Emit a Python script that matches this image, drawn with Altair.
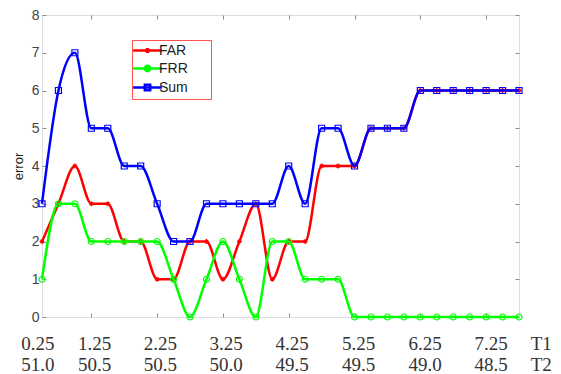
import altair as alt
import pandas as pd

# ---- data ----
sample_idx = list(range(30))
far = [2, 3, 4, 3, 3, 2, 2, 1, 1, 2, 2, 1, 2, 3, 1, 2, 2, 4, 4, 4, 5, 5, 5, 6, 6, 6, 6, 6, 6, 6]
frr = [1, 3, 3, 2, 2, 2, 2, 2, 1, 0, 1, 2, 1, 0, 2, 2, 1, 1, 1, 0, 0, 0, 0, 0, 0, 0, 0, 0, 0, 0]
total = [3, 6, 7, 5, 5, 4, 4, 3, 2, 2, 3, 3, 3, 3, 3, 4, 3, 5, 5, 4, 5, 5, 5, 6, 6, 6, 6, 6, 6, 6]
series_names = ["FAR", "FRR", "Sum"]
series_colors = ["#ff0000", "#00ff00", "#0000ff"]
t1_labels = ["0.25", "1.25", "2.25", "3.25", "4.25", "5.25", "6.25", "7.25", "T1"]
t2_labels = ["51.0", "50.5", "50.5", "50.0", "49.5", "49.5", "49.0", "48.5", "T2"]
label_at = [-0.25, 3.2, 7.2, 11.2, 15.2, 19.25, 23.3, 27.3, 30.35]
tick_at = [3, 7, 11, 15, 19, 23, 27]
y_ticks = [0, 1, 2, 3, 4, 5, 6, 7, 8]

rows = []
for name, vals in zip(series_names, [far, frr, total]):
    for i, v in zip(sample_idx, vals):
        rows.append({"i": i, "v": v, "s": name})
df = pd.DataFrame(rows)
lab = pd.DataFrame({"p": label_at, "t1": t1_labels, "t2": t2_labels})

W, H = 477, 302
GRAY = "#8c8c8c"
x_scale = alt.Scale(domain=[0, 29], nice=False, zero=False)
y_scale = alt.Scale(domain=[0, 8], nice=False, zero=False)
color_scale = alt.Scale(domain=series_names, range=series_colors)
shape_scale = alt.Scale(
    domain=series_names,
    range=["M-0.8,0H0.8M0,-0.8V0.8M-0.55,-0.55L0.55,0.55M-0.55,0.55L0.55,-0.55",
           "circle", "square"])

leg_far = "M-2.4,0H2.4M-0.4,0H0.4M0,-0.4V0.4M-0.3,-0.3L0.3,0.3M-0.3,0.3L0.3,-0.3"
leg_frr = "M-2.4,0H2.4M-0.45,0A0.45,0.45,0,1,0,0.45,0A0.45,0.45,0,1,0,-0.45,0"
leg_sum = "M-2.4,0H2.4M-0.45,-0.45H0.45V0.45H-0.45Z"
pad = "\u00a0" * 5 + "\u200b"

legend = alt.Legend(
    title=None, orient="none", legendX=90, legendY=25,
    strokeColor="#ff5050", fillColor="white", padding=3,
    symbolSize=144, symbolStrokeWidth=2.5, symbolOffset=5, labelOffset=4,
    symbolFillColor="white",
    rowPadding=2, labelFontSize=14, labelFont="Liberation Sans", labelColor="#222",
    labelExpr=f"datum.label + '{pad}'",
    symbolType={"expr": f"datum.value === 'FAR' ? '{leg_far}' : "
                        f"(datum.value === 'FRR' ? '{leg_frr}' : '{leg_sum}')"},
)


def line_layer(name, x_axis, y_axis, color_legend):
    return alt.Chart(df).transform_filter(alt.datum.s == name).mark_line(
        interpolate="monotone", strokeWidth=2.5).encode(
        x=alt.X("i:Q", scale=x_scale, axis=x_axis),
        y=alt.Y("v:Q", scale=y_scale, axis=y_axis),
        color=alt.Color("s:N", scale=color_scale, legend=color_legend),
    )


def point_layer(name, x_axis, y_axis):
    return alt.Chart(df).transform_filter(alt.datum.s == name).mark_point(
        filled=False, size=36, strokeWidth=1.2, opacity=1).encode(
        x=alt.X("i:Q", scale=x_scale, axis=x_axis),
        y=alt.Y("v:Q", scale=y_scale, axis=y_axis),
        color=alt.Color("s:N", scale=color_scale, legend=None),
        shape=alt.Shape("s:N", scale=shape_scale, legend=None),
    )


# inward ticks on all four sides (axes pushed across the plot with negative offsets)
ax_bottom = alt.Axis(orient="top", offset=-H, values=tick_at, labels=False, domain=False,
                     grid=False, tickSize=4, tickColor=GRAY, title=None)
ax_left = alt.Axis(orient="right", offset=-W, values=y_ticks, domain=False, grid=False,
                   tickSize=4, tickColor=GRAY, labelAlign="right", labelPadding=-7,
                   labelFontSize=14, labelFont="Liberation Sans", labelColor="#444",
                   title="error", titleX=-24, titleY=H / 2, titleAngle=270,
                   titleAlign="center", titleBaseline="middle", titleFontSize=13,
                   titleFont="Liberation Sans", titleFontWeight="normal", titleColor="#222")
ax_top = alt.Axis(orient="bottom", offset=-H, values=tick_at, labels=False, domain=False,
                  grid=False, tickSize=4, tickColor=GRAY, title=None)
ax_right = alt.Axis(orient="left", offset=-W, values=y_ticks, labels=False, domain=False,
                    grid=False, tickSize=4, tickColor=GRAY, title=None)

layers = [
    line_layer("FAR", ax_bottom, ax_left, legend),
    point_layer("FAR", ax_top, ax_right),
    line_layer("FRR", None, None, None),
    point_layer("FRR", None, None),
    line_layer("Sum", None, None, None),
    point_layer("Sum", None, None),
]

txt_common = dict(font="Liberation Serif", fontSize=19, color="#333",
                  baseline="middle", align="center")
t1 = alt.Chart(lab).mark_text(**txt_common).encode(
    x=alt.X("p:Q", scale=x_scale, axis=None), y=alt.value(328.5), text="t1:N")
t2 = alt.Chart(lab).mark_text(**txt_common).encode(
    x=alt.X("p:Q", scale=x_scale, axis=None), y=alt.value(349.5), text="t2:N")

chart = alt.layer(*layers, t1, t2).resolve_axis(
    x="independent", y="independent"
).resolve_legend(color="independent", shape="independent").properties(
    width=W, height=H,
    padding={"left": 34, "top": 7, "right": 34, "bottom": 57},
    autosize=alt.AutoSizeParams(type="none"),
).configure_view(stroke=GRAY, strokeWidth=1.2).configure(background="white")

chart.save("out.html", embed_options={"renderer": "svg", "actions": False})
